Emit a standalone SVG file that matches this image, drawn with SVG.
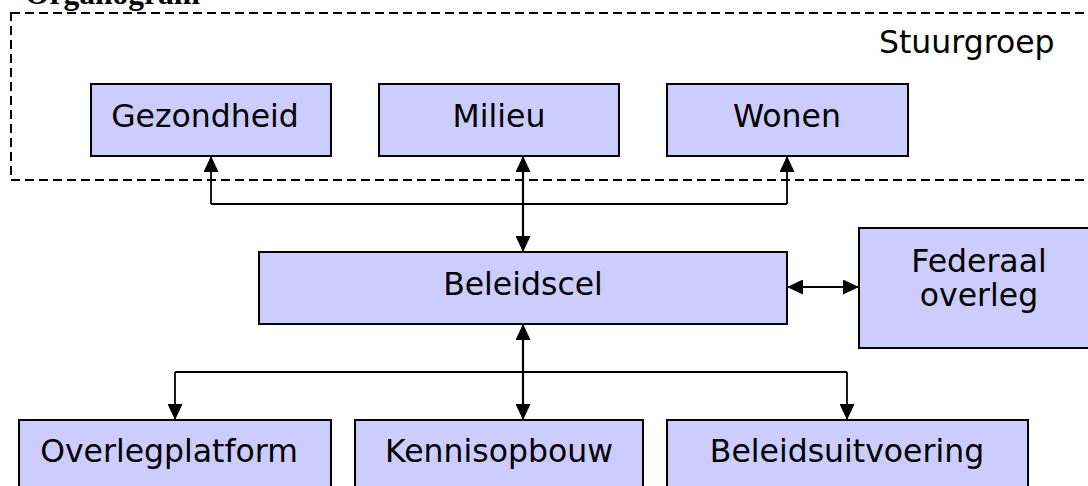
<svg xmlns="http://www.w3.org/2000/svg" width="1088" height="486" viewBox="0 0 1088 486">
<style>
.box{fill:#CCCCFF;stroke:#000;stroke-width:2}
.t{font-family:"DejaVu Sans",Verdana,sans-serif;font-size:31.5px;fill:#000}
.c{text-anchor:middle}
.ln{fill:none;stroke:#000;stroke-width:1.8}
.lt{fill:none;stroke:#000;stroke-width:2.2}
</style>
<defs>
<marker id="ah" viewBox="0 0 16 15" refX="16" refY="7.5" markerWidth="16" markerHeight="15" markerUnits="userSpaceOnUse" orient="auto-start-reverse">
<path d="M0,0 L16,7.5 L0,15 z" fill="#000"/>
</marker>
</defs>
<rect width="1088" height="486" fill="#fff"/>
<text x="25" y="4" style="font-family:'Liberation Serif','Times New Roman',serif;font-weight:bold;font-size:31.5px">Organogram</text>
<g id="stuurgroep">
<rect x="11" y="13" width="1090" height="167" fill="none" stroke="#000" stroke-width="2" stroke-dasharray="9 5"/>
<text class="t" x="879" y="53">Stuurgroep</text>
</g>
<g id="gezondheid"><rect class="box" x="91" y="84" width="240" height="72"/><text class="t c" x="205" y="127">Gezondheid</text></g>
<g id="milieu"><rect class="box" x="379" y="84" width="240" height="72"/><text class="t c" x="499" y="127">Milieu</text></g>
<g id="wonen"><rect class="box" x="667" y="84" width="241" height="72"/><text class="t c" x="787" y="127">Wonen</text></g>
<g id="beleidscel"><rect class="box" x="259" y="252" width="528" height="72"/><text class="t c" x="523" y="295">Beleidscel</text></g>
<g id="federaal"><rect class="box" x="859" y="228" width="240" height="120"/><text class="t c" x="979" y="272">Federaal</text><text class="t c" x="979" y="306">overleg</text></g>
<g id="overlegplatform"><rect class="box" x="19" y="420" width="312" height="80"/><text class="t c" x="169" y="462">Overlegplatform</text></g>
<g id="kennisopbouw"><rect class="box" x="355" y="420" width="288" height="80"/><text class="t c" x="499" y="462">Kennisopbouw</text></g>
<g id="beleidsuitvoering"><rect class="box" x="667" y="420" width="361" height="80"/><text class="t c" x="847" y="462">Beleidsuitvoering</text></g>
<g id="connectors">
<polyline class="ln" points="211,204 787,204"/>
<line class="ln" x1="211" y1="204" x2="211" y2="156" marker-end="url(#ah)"/>
<line class="ln" x1="787" y1="204" x2="787" y2="156" marker-end="url(#ah)"/>
<line class="lt" x1="523" y1="156" x2="523" y2="252" marker-start="url(#ah)" marker-end="url(#ah)"/>
<line class="lt" x1="523" y1="324" x2="523" y2="420" marker-start="url(#ah)" marker-end="url(#ah)"/>
<polyline class="ln" points="175,372 847,372"/>
<line class="ln" x1="175" y1="372" x2="175" y2="420" marker-end="url(#ah)"/>
<line class="ln" x1="847" y1="372" x2="847" y2="420" marker-end="url(#ah)"/>
<line class="ln" x1="787" y1="287" x2="859" y2="287" marker-start="url(#ah)" marker-end="url(#ah)"/>
</g>
</svg>
